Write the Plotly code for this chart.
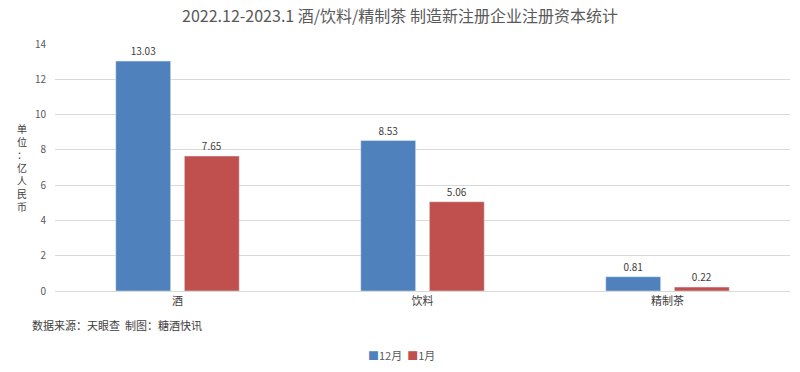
import plotly.graph_objects as go

categories = ["酒", "饮料", "精制茶"]
dec_values = [13.03, 8.53, 0.81]
jan_values = [7.65, 5.06, 0.22]
y_ticks = [0, 2, 4, 6, 8, 10, 12, 14]
series_names = ["12月", "1月"]
series_colors = ["#4F81BD", "#C0504D"]

font_family = "Microsoft YaHei, Noto Sans CJK SC, sans-serif"

fig = go.Figure()
for name, vals, col in zip(series_names, [dec_values, jan_values], series_colors):
    fig.add_trace(go.Bar(
        x=categories, y=vals, name=name,
        marker_color=col,
        text=[f"{v:.2f}" for v in vals], textposition="outside",
        textfont=dict(size=10, color="#404040"), cliponaxis=False,
    ))

legend_text = "&nbsp;&nbsp;".join(
    f"<span style='color:{c}'>■</span>{n}" for n, c in zip(series_names, series_colors)
)

fig.update_layout(
    width=800, height=372,
    margin=dict(l=55, r=10, t=44, b=81, autoexpand=False),
    paper_bgcolor="white", plot_bgcolor="white",
    font=dict(family=font_family, color="#595959"),
    title=dict(text="2022.12-2023.1 酒/饮料/精制茶 制造新注册企业注册资本统计",
               x=0.5, xanchor="center", y=0.955, yanchor="middle",
               font=dict(size=16, color="#595959")),
    barmode="group", bargap=0.44, bargroupgap=0.2,
    showlegend=False,
    xaxis=dict(showline=True, linecolor="#D9D9D9", ticks="", automargin=False,
               tickfont=dict(size=11, color="#404040")),
    yaxis=dict(range=[0, 14], tickvals=y_ticks, showgrid=True, gridcolor="#D9D9D9",
               zeroline=False, showline=False, ticks="", automargin=False,
               tickfont=dict(size=10, color="#595959"), ticklabelstandoff=8),
    annotations=[
        dict(text="单<br>位<br>：<br>亿<br>人<br>民<br>币", xref="paper", yref="paper",
             x=-0.045, y=0.50, xanchor="center", yanchor="middle", showarrow=False,
             font=dict(size=10, color="#404040")),
        dict(text="数据来源：天眼查  制图：糖酒快讯", xref="paper", yref="paper",
             x=-0.034, y=-0.138, xanchor="left", yanchor="middle", showarrow=False,
             font=dict(size=11, color="#404040")),
        dict(text=legend_text, xref="paper", yref="paper",
             x=0.472, y=-0.26, xanchor="center", yanchor="middle", showarrow=False,
             font=dict(size=11, color="#595959")),
    ],
)

fig.write_html("out.html", config={"displayModeBar": False},
               post_script="document.body.style.margin='0';document.body.style.padding='0';")
